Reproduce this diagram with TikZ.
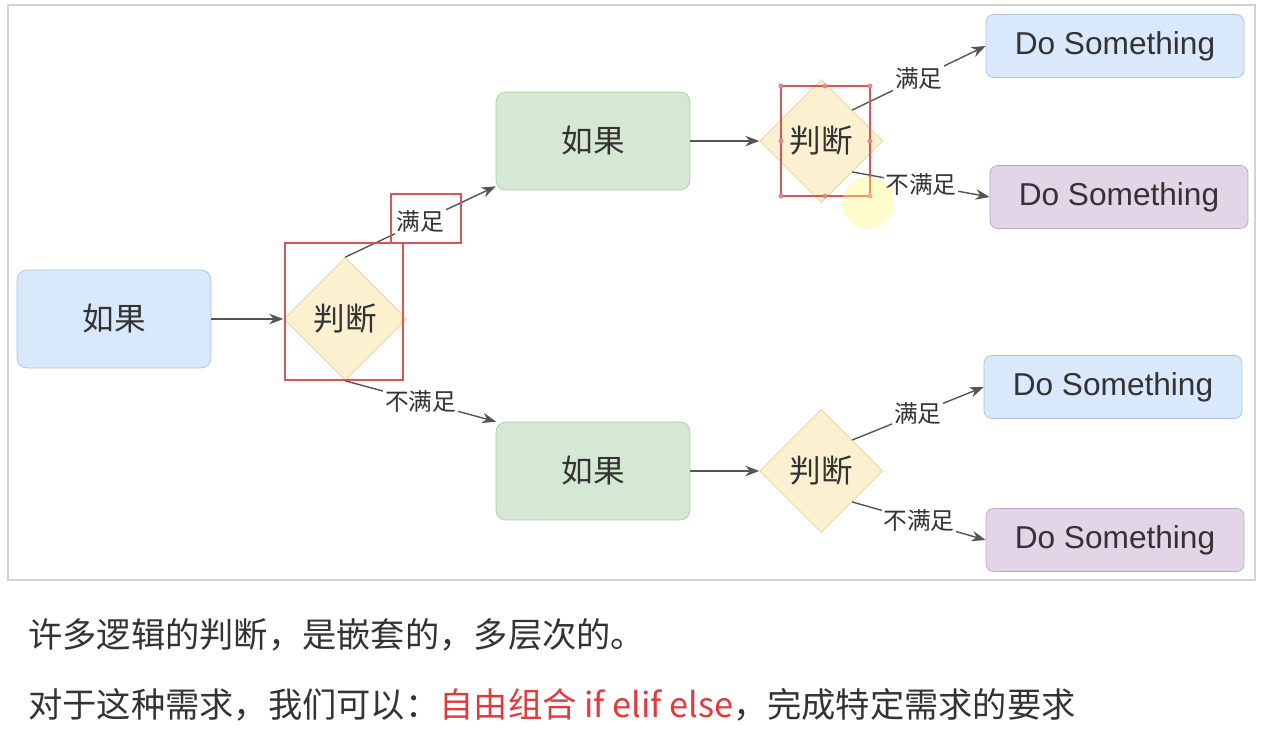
\documentclass[tikz,border=0pt]{standalone}
\usepackage{fontspec}
\setmainfont{Liberation Sans}
\newfontfamily\cjk{Noto Sans CJK SC}
\usepackage{xcolor}
\usetikzlibrary{arrows.meta, positioning, shapes.geometric}

\definecolor{txtgray}{HTML}{333333}
\definecolor{linegray}{HTML}{555555}
\definecolor{bluefill}{HTML}{DAE8FC}
\definecolor{bluedraw}{HTML}{A8C4E0}
\definecolor{greenfill}{HTML}{D5E8D4}
\definecolor{greendraw}{HTML}{A9CBA5}
\definecolor{purplefill}{HTML}{E1D5E7}
\definecolor{purpledraw}{HTML}{BBA9C6}
\definecolor{yellowfill}{HTML}{FBF0D0}
\definecolor{yellowdraw}{HTML}{E3D39A}
\definecolor{markred}{HTML}{D9535A}
\definecolor{hlred}{HTML}{E0393E}

\begin{document}
\begin{tikzpicture}[
  x=0.02cm, y=-0.02cm,
  block/.style={draw, rounded corners=0.2cm, minimum width=3.88cm, minimum height=1.96cm,
    font=\cjk\fontsize{18}{20}\selectfont, text=txtgray},
  doit/.style={draw, rounded corners=0.15cm, minimum width=5.16cm, minimum height=1.26cm,
    font=\fontsize{18}{20}\selectfont, text=txtgray},
  decide/.style={diamond, draw=yellowdraw, fill=yellowfill, inner sep=0pt,
    minimum width=2.46cm, minimum height=2.46cm,
    font=\cjk\fontsize{18}{20}\selectfont, text=txtgray},
  arrow/.style={-{Stealth[length=8pt, width=6pt]}, line width=0.8pt, draw=linegray},
  cond/.style={font=\cjk\fontsize{13.5}{15}\selectfont, text=txtgray, fill=white, inner sep=1pt},
  markbox/.style={draw=markred, line width=1pt},
  handle/.style={fill=markred!70, draw=none},
  caption/.style={anchor=west, inner sep=0pt, text=txtgray, font=\cjk\fontsize{19.5}{22}\selectfont}
]
  \useasboundingbox (0,0) rectangle (1270,732);
  \draw[draw=gray!35, line width=1.6pt] (8,5) rectangle (1255,580);

  % first level
  \node[block, fill=bluefill, draw=bluedraw] (start) at (114,319) {如果};
  \node[decide, right=1.44cm of start] (d1) {判断};

  % second level
  \node[block, fill=greenfill, draw=greendraw] (c1) at (593,141) {如果};
  \node[block, fill=greenfill, draw=greendraw] (c2) at (593,471) {如果};
  \node[decide, right=1.38cm of c1] (d2) {判断};
  \node[decide, right=1.38cm of c2] (d3) {判断};

  % results
  \node[doit, fill=bluefill, draw=bluedraw] (r1) at (1115,46) {Do Something};
  \node[doit, fill=purplefill, draw=purpledraw] (r2) at (1119,197) {Do Something};
  \node[doit, fill=bluefill, draw=bluedraw] (r3) at (1113,387) {Do Something};
  \node[doit, fill=purplefill, draw=purpledraw] (r4) at (1115,540) {Do Something};

  \draw[arrow] (start) -- (d1);
  \draw[arrow] (d1.north) -- node[cond] {满足} (c1.205);
  \draw[arrow] (d1.south) -- node[cond] {不满足} (c2.153);
  \draw[arrow] (c1) -- (d2);
  \draw[arrow] (c2) -- (d3);
  \draw[arrow] (d2.north east) -- node[cond] {满足} (r1.west);
  \draw[arrow] (d2.south east) -- node[cond] {不满足} (r2.west);
  \draw[arrow] (d3.north east) -- node[cond] {满足} (r3.west);
  \draw[arrow] (d3.south east) -- node[cond] {不满足} (r4.west);

  % red marks
  \draw[markbox] (285,243) rectangle (403,380);
  \draw[markbox] (391,194) rectangle (461,243);
  \draw[markbox] (781,86) rectangle (870,196);
  \foreach \hx/\hy in {781/86, 825/86, 870/86, 781/141, 870/141, 781/196, 825/196, 870/196}
    \fill[handle] (\hx,\hy) circle (2.5);
  \fill[yellow!50, opacity=0.4] (868,203) circle (26);

  % text below
  \node[caption] (line1) at (28,635) {许多逻辑的判断，是嵌套的，多层次的。};
  \node[caption] (line2) at (28,705)
    {对于这种需求，我们可以：\textcolor{hlred}{自由组合 if elif else}，完成特定需求的要求};
\end{tikzpicture}
\end{document}
